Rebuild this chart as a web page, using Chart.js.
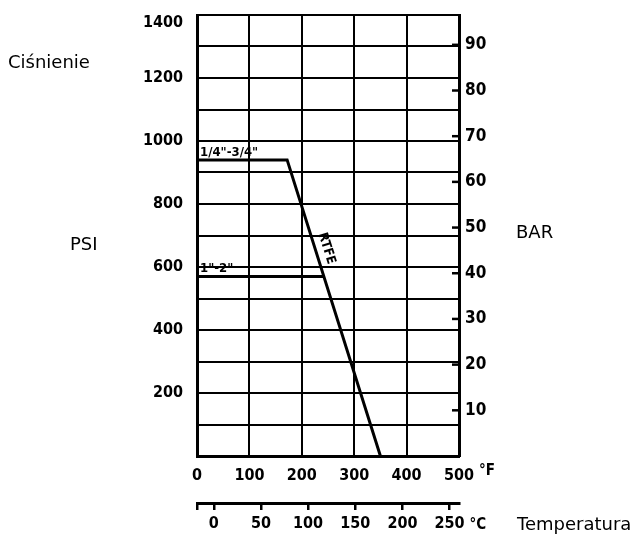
<!DOCTYPE html>
<html>
<head>
<meta charset="utf-8">
<script src="https://cdn.jsdelivr.net/npm/chart.js@4.4.0/dist/chart.umd.min.js"></script>
<style>
  html, body { margin: 0; padding: 0; background: #fff; }
  #wrap { width: 639px; height: 535px; }
</style>
</head>
<body>
<div id="wrap"><canvas id="chart" width="639" height="535"></canvas></div>
<script>
// pressure / temperature rating
const smallTemp = [0, 172, 350];       // °F
const smallPsi = [940, 940, 0];         // 1/4"-3/4"
const largeTemp = [0, 242];             // °F
const largePsi = [570, 570];            // 1"-2"
const fTicks = [0, 100, 200, 300, 400, 500];
const cTicks = [0, 50, 100, 150, 200, 250];
const barTicks = [10, 20, 30, 40, 50, 60, 70, 80, 90];
const PSI_PER_BAR = 14.5038;

const NARROW = "'DejaVu Sans Condensed', 'DejaVu Sans', sans-serif";
const tickFont = { family: NARROW, weight: "bold", size: 16 };
const textFont = "18px 'DejaVu Sans'";

function pts(xs, ys) {
  return xs.map((x, i) => ({ x: x, y: ys[i] }));
}

const extras = {
  id: "extras",
  afterDraw(chart) {
    const ctx = chart.ctx;
    const x = chart.scales.x;
    const y = chart.scales.y;
    const yb = chart.scales.ybar;
    const xc = chart.scales.xc;
    ctx.save();

    // bar ticks drawn inside the frame
    ctx.strokeStyle = "#000";
    ctx.lineWidth = 2.5;
    barTicks.forEach(v => {
      const py = yb.getPixelForValue(v);
      ctx.beginPath();
      ctx.moveTo(yb.left - 7, py);
      ctx.lineTo(yb.left, py);
      ctx.stroke();
    });

    // top psi label sits just under the frame
    ctx.fillStyle = "#000";
    ctx.font = "bold 16px " + NARROW;
    ctx.textAlign = "right";
    ctx.textBaseline = "middle";
    ctx.fillText("1400", y.right - 14, y.getPixelForValue(1400) + 8);

    // unit marks
    ctx.font = "bold 15px " + NARROW;
    ctx.textAlign = "left";
    ctx.fillText("°F", x.getPixelForValue(500) + 20, 471);
    ctx.fillText("°C", xc.getPixelForValue(250) + 20, 525);

    // titles
    ctx.font = textFont;
    ctx.fillText("Ciśnienie", 8, 63);
    ctx.fillText("PSI", 70, 245);
    ctx.fillText("BAR", 516, 233);
    ctx.fillText("Temperatura", 517, 525);

    // curve labels
    ctx.font = "bold 13px " + NARROW;
    ctx.textBaseline = "bottom";
    ctx.fillText('1/4"-3/4"', x.getPixelForValue(smallTemp[0]) + 3, y.getPixelForValue(smallPsi[0]) - 1);
    ctx.fillText('1"-2"', x.getPixelForValue(largeTemp[0]) + 3, y.getPixelForValue(largePsi[0]) - 1);

    // RTFE along the sloped part
    const x1 = x.getPixelForValue(smallTemp[1]), y1 = y.getPixelForValue(smallPsi[1]);
    const x2 = x.getPixelForValue(smallTemp[2]), y2 = y.getPixelForValue(smallPsi[2]);
    const ang = Math.atan2(y2 - y1, x2 - x1);
    const t = 0.31;
    ctx.translate(x1 + (x2 - x1) * t, y1 + (y2 - y1) * t);
    ctx.rotate(ang);
    ctx.textAlign = "center";
    ctx.textBaseline = "middle";
    ctx.font = "bold 13px " + NARROW;
    ctx.fillText("RTFE", 0, -11);
    ctx.restore();
  }
};

const lineStyle = {
  borderColor: "#000",
  borderWidth: 3,
  pointRadius: 0,
  showLine: true,
  fill: false,
  tension: 0
};

function noPad(s) {
  s.paddingTop = 0;
  s.paddingBottom = 0;
}

new Chart(document.getElementById("chart").getContext("2d"), {
  type: "scatter",
  data: {
    datasets: [
      Object.assign({ label: '1/4"-3/4"', data: pts(smallTemp, smallPsi) }, lineStyle),
      Object.assign({ label: '1"-2"', data: pts(largeTemp, largePsi) }, lineStyle)
    ]
  },
  options: {
    responsive: false,
    animation: false,
    layout: { padding: { top: 15, left: 0, right: 0, bottom: 0 } },
    plugins: {
      legend: { display: false },
      tooltip: { enabled: false }
    },
    scales: {
      x: {
        type: "linear",
        position: "bottom",
        weight: 0,
        min: 0,
        max: 500,
        afterBuildTicks: s => { s.ticks = fTicks.map(v => ({ value: v })); },
        afterFit: s => { s.height = 47; s.paddingLeft = 0; s.paddingRight = 0; },
        grid: { color: "#000", lineWidth: 2, drawTicks: false },
        border: { color: "#000", width: 3 },
        ticks: { color: "#000", font: tickFont, padding: 10, maxRotation: 0 }
      },
      xc: {
        type: "linear",
        position: "bottom",
        weight: 1,
        min: (0 - 32) / 1.8,
        max: (500 - 32) / 1.8,
        afterBuildTicks: s => {
          s.ticks = [{ value: s.min }].concat(cTicks.map(v => ({ value: v })));
        },
        afterFit: s => { s.height = 32; s.paddingLeft = 0; s.paddingRight = 0; },
        grid: { drawOnChartArea: false, color: "#000", lineWidth: 2.5, tickLength: 7 },
        border: { color: "#000", width: 3 },
        ticks: {
          color: "#000",
          font: tickFont,
          padding: 4,
          maxRotation: 0,
          callback: v => (cTicks.includes(v) ? String(v) : "")
        }
      },
      y: {
        type: "linear",
        position: "left",
        min: 0,
        max: 1400,
        afterBuildTicks: s => {
          const t = [];
          for (let v = 0; v <= 1400; v += 100) t.push({ value: v });
          s.ticks = t;
        },
        afterFit: s => { s.width = 197; noPad(s); },
        grid: { color: "#000", lineWidth: 2, drawTicks: false },
        border: { color: "#000", width: 3 },
        ticks: {
          color: "#000",
          font: tickFont,
          padding: 14,
          callback: v => (v > 0 && v < 1400 && v % 200 === 0 ? String(v) : "")
        }
      },
      ybar: {
        type: "linear",
        position: "right",
        min: 0,
        max: 1400 / PSI_PER_BAR,
        afterBuildTicks: s => { s.ticks = barTicks.map(v => ({ value: v })); },
        afterFit: s => { s.width = 180; noPad(s); },
        grid: { drawOnChartArea: false, drawTicks: false },
        border: { color: "#000", width: 3 },
        ticks: { color: "#000", font: { family: NARROW, weight: "bold", size: 17 }, padding: 6 }
      }
    }
  },
  plugins: [extras]
});
</script>
</body>
</html>
